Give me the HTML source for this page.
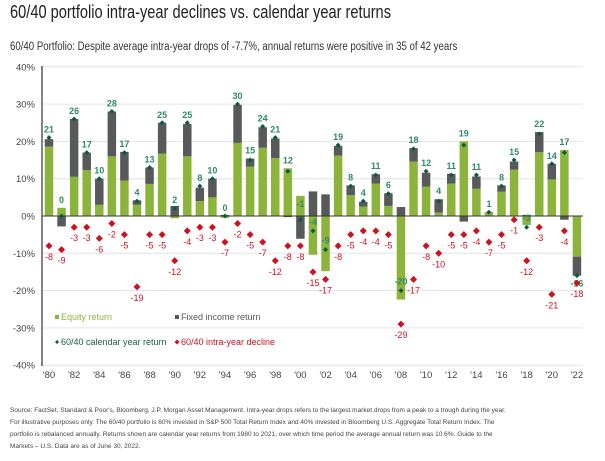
<!DOCTYPE html>
<html><head><meta charset="utf-8"><style>
body{margin:0;background:#fff;width:605px;height:461px;overflow:hidden;font-family:"Liberation Sans",sans-serif}
#t{position:absolute;left:10px;top:1px;font-size:18.5px;color:#222;transform:scaleX(0.79);transform-origin:0 0;white-space:nowrap}
#s{position:absolute;left:10px;top:41px;font-size:11.5px;color:#333;transform:scaleX(0.84);transform-origin:0 0;white-space:nowrap}
#f{position:absolute;left:10px;top:405px;width:505px;font-size:6.5px;line-height:12.1px;color:#444}
svg{position:absolute;left:0;top:0}
</style></head><body>
<div id="t">60/40 portfolio intra-year declines vs. calendar year returns</div>
<div id="s">60/40 Portfolio: Despite average intra-year drops of -7.7%, annual returns were positive in 35 of 42 years</div>
<svg id="c" width="605" height="400" font-family="Liberation Sans, sans-serif"></svg>
<div id="f">Source: FactSet, Standard &amp; Poor's, Bloomberg, J.P. Morgan Asset Management. Intra-year drops refers to the largest market drops from a peak to a trough during the year. For illustrative purposes only. The 60/40 portfolio is 60% invested in S&amp;P 500 Total Return Index and 40% invested in Bloomberg U.S. Aggregate Total Return Index. The portfolio is rebalanced annually. Returns shown are calendar year returns from 1980 to 2021, over which time period the average annual return was 10.6%. Guide to the Markets – U.S. Data are as of June 30, 2022.</div>
<script>
var D=[[18.6,2,21,-8],[2.2,-2.8,0,-9],[10.5,15.5,26,-3],[12.3,4.7,17,-3],[3,7,10,-6],[16,12,28,-2],[9.5,7.7,17,-5],[3,1.2,4,-19],[8.6,4.4,13,-5],[16.7,8.3,25,-5],[-0.6,2.7,2,-12],[16,8.7,25,-4],[4,3.6,8,-3],[5,5,10,-3],[-0.5,0.3,0,-7],[19.6,10.2,30,-2],[13.2,2.2,15,-5],[18.3,5.5,24,-7],[15.5,5.3,21,-12],[12.8,-0.3,12,-8],[5.4,-6.1,-1,-8],[-10.4,6.6,-4,-15],[-14.8,5.8,-9,-17],[16.2,2.6,19,-8],[5.6,2.6,8,-5],[2.5,1.3,4,-4],[8.7,2.5,11,-4],[2.7,3.4,6,-5],[-22.4,2.4,-20,-29],[14.6,3.6,18,-17],[7.9,3.7,12,-8],[0.9,3.6,4,-10],[8.7,2.6,11,-5],[20,-1.5,19,-5],[7.3,3.3,11,-4],[1.1,0,1,-7],[6.5,1.7,8,-5],[12.4,2.2,15,-1],[-2.4,0.3,-3,-12],[17.1,5.4,22,-3],[9.8,4.2,14,-21],[17.7,-1,17,-4],[-10.9,-5.1,-16,-18]];
var Y0=216,K=3.73,X0=49,DX=12.57,h='';
function y(v){return Y0-v*K}
for(var g=-40;g<=40;g+=10){h+='<line x1="42" x2="583" y1="'+y(g)+'" y2="'+y(g)+'" stroke="#e3e3e3" stroke-width="1"/>';
h+='<text x="35" y="'+(y(g)+3.5)+'" font-size="9.5" text-anchor="end" fill="#444">'+g+'%</text>'}
D.forEach(function(d,i){var x=X0+i*DX,w=8.5,e=d[0],f=d[1];
 var ep=[Math.min(0,e),Math.max(0,e)];
 h+='<rect x="'+(x-w/2)+'" y="'+y(ep[1])+'" width="'+w+'" height="'+(Math.abs(e)*K)+'" fill="#8cb43a"/>';
 var s=(f>=0)==(e>=0)?e:0, a=s,b=s+f;
 h+='<rect x="'+(x-w/2)+'" y="'+y(Math.max(a,b))+'" width="'+w+'" height="'+(Math.abs(f)*K)+'" fill="#58595b"/>';
});
h+='<line x1="42" x2="583" y1="216" y2="216" stroke="#333" stroke-width="1"/><line x1="42" x2="42" y1="66" y2="366" stroke="#333" stroke-width="1.2"/>';
D.forEach(function(d,i){var x=X0+i*DX,t=d[2],c=d[3];
 var dy=y(t);h+='<path d="M'+x+' '+(dy-2.5)+'l2.5 2.5-2.5 2.5-2.5-2.5z" fill="#0b5a45"/>';
 var top=Math.max(0,d[0],d[0]+d[1],t);
 var ly=t>=0?y(top)-5:(i==20?207:(i==42?dy+11:dy-6));
 h+='<text x="'+x+'" y="'+ly+'" font-size="9" font-weight="bold" text-anchor="middle" fill="#2e8a64">'+t+'</text>';
 var cy=y(c);h+='<path d="M'+x+' '+(cy-3.5)+'l3.5 3.5-3.5 3.5-3.5-3.5z" fill="#d0101e"/>';
 h+='<text x="'+x+'" y="'+(cy+14)+'" font-size="9" text-anchor="middle" fill="#d0101e">'+c+'</text>';
});
for(var i=0;i<43;i+=2)h+='<text x="'+(X0+i*DX)+'" y="378" font-size="9.5" text-anchor="middle" fill="#444">\''+String(1980+i).slice(2)+'</text>';
h+='<rect x="55" y="315" width="4" height="4" fill="#8cb43a"/><text x="61" y="320" font-size="9" fill="#8cb43a">Equity return</text>';
h+='<rect x="175" y="315" width="4" height="4" fill="#58595b"/><text x="181" y="320" font-size="9" fill="#58595b">Fixed income return</text>';
h+='<path d="M57 340l2 2-2 2-2-2z" fill="#0b5a45"/><text x="61" y="345" font-size="9" fill="#1a5e4a">60/40 calendar year return</text>';
h+='<path d="M177 339.5l2.5 2.5-2.5 2.5-2.5-2.5z" fill="#d0101e"/><text x="181" y="345" font-size="9" fill="#d0101e">60/40 intra-year decline</text>';
document.getElementById('c').innerHTML=h;
</script>
</body></html>
